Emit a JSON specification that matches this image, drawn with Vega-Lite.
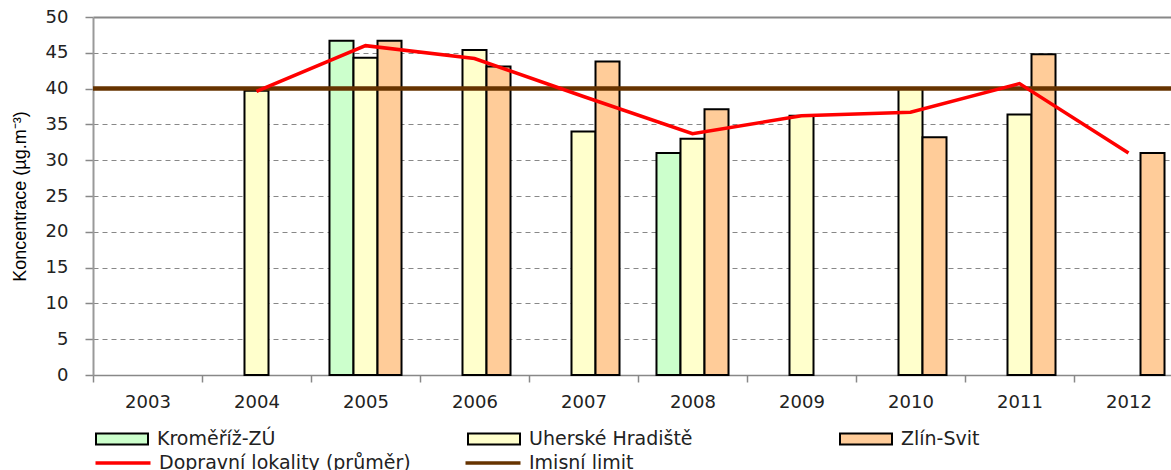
{
  "$schema": "https://vega.github.io/schema/vega-lite/v6.json",
  "width": 1078,
  "height": 358,
  "autosize": {"type": "none"},
  "padding": {"left": 93, "top": 17, "right": 0, "bottom": 95},
  "background": "white",
  "config": {"view": {"stroke": null}, "font": "DejaVu Sans"},
  "datasets": {
    "bars": [
      {"year": "2004", "series": "Uherské Hradiště", "value": 39.7},
      {"year": "2005", "series": "Kroměříž-ZÚ", "value": 46.7},
      {"year": "2005", "series": "Uherské Hradiště", "value": 44.3},
      {"year": "2005", "series": "Zlín-Svit", "value": 46.7},
      {"year": "2006", "series": "Uherské Hradiště", "value": 45.4},
      {"year": "2006", "series": "Zlín-Svit", "value": 43.1},
      {"year": "2007", "series": "Uherské Hradiště", "value": 34.0},
      {"year": "2007", "series": "Zlín-Svit", "value": 43.8},
      {"year": "2008", "series": "Kroměříž-ZÚ", "value": 31.0},
      {"year": "2008", "series": "Uherské Hradiště", "value": 33.0},
      {"year": "2008", "series": "Zlín-Svit", "value": 37.1},
      {"year": "2009", "series": "Uherské Hradiště", "value": 36.2},
      {"year": "2010", "series": "Uherské Hradiště", "value": 40.0},
      {"year": "2010", "series": "Zlín-Svit", "value": 33.2},
      {"year": "2011", "series": "Uherské Hradiště", "value": 36.4},
      {"year": "2011", "series": "Zlín-Svit", "value": 44.8},
      {"year": "2012", "series": "Zlín-Svit", "value": 31.0}
    ],
    "avg": [
      {"year": "2004", "series": "Dopravní lokality (průměr)", "value": 39.6},
      {"year": "2005", "series": "Dopravní lokality (průměr)", "value": 46.0},
      {"year": "2006", "series": "Dopravní lokality (průměr)", "value": 44.2},
      {"year": "2007", "series": "Dopravní lokality (průměr)", "value": 38.9},
      {"year": "2008", "series": "Dopravní lokality (průměr)", "value": 33.7},
      {"year": "2009", "series": "Dopravní lokality (průměr)", "value": 36.2},
      {"year": "2010", "series": "Dopravní lokality (průměr)", "value": 36.7},
      {"year": "2011", "series": "Dopravní lokality (průměr)", "value": 40.7},
      {"year": "2012", "series": "Dopravní lokality (průměr)", "value": 31.0}
    ],
    "limit": [
      {"series": "Imisní limit", "value": 40}
    ]
  },
  "layer": [
    {
      "data": {"name": "bars"},
      "mark": {"type": "bar", "stroke": "black", "strokeWidth": 2},
      "encoding": {
        "x": {
          "field": "year", "type": "nominal",
          "scale": {"domain": ["2003","2004","2005","2006","2007","2008","2009","2010","2011","2012"], "range": [0, 1090], "paddingInner": 0, "paddingOuter": 0},
          "axis": {"title": null, "tickBand": "extent", "labelAngle": 0, "domainColor": "#888888", "domainWidth": 1.5, "tickColor": "#888888", "tickWidth": 1.5, "tickSize": 7, "labelFont": "DejaVu Sans", "labelFontSize": 18, "labelColor": "#222222", "labelPadding": 11}
        },
        "xOffset": {
          "field": "series", "type": "nominal",
          "scale": {"domain": ["Kroměříž-ZÚ", "Uherské Hradiště", "Zlín-Svit"], "paddingInner": 0, "paddingOuter": 0.77}
        },
        "y": {
          "field": "value", "type": "quantitative",
          "scale": {"domain": [0, 50]},
          "axis": {
            "values": [0,5,10,15,20,25,30,35,40,45,50], "tickCount": 11,
            "title": "Koncentrace (µg.m⁻³)",
            "titleFont": "Liberation Sans",
            "titleFontSize": 18, "titleFontWeight": "normal", "titleColor": "#000000", "titlePadding": 16,
            "grid": true, "gridColor": "#888888",
            "gridDash": {"condition": {"test": "datum.value === 50", "value": []}, "value": [5, 4]},
            "gridWidth": {"condition": {"test": "datum.value === 50", "value": 2}, "value": 1},
            "domainColor": "#999999", "domainWidth": 2,
            "tickColor": "#888888", "tickWidth": 1.5, "tickSize": 8,
            "labelFont": "DejaVu Sans", "labelFontSize": 18, "labelColor": "#222222", "labelPadding": 17
          }
        },
        "fill": {
          "field": "series", "type": "nominal",
          "scale": {
            "domain": ["Kroměříž-ZÚ", "Uherské Hradiště", "Zlín-Svit"],
            "range": ["#ccffcc", "#ffffcc", "#ffcc99"]
          },
          "legend": {
            "orient": "none", "legendX": 18, "legendY": 411,
            "direction": "horizontal", "columns": 3, "title": null, "gridAlign": "all",
            "symbolType": "M-2.6,-0.55H2.6V0.55H-2.6Z", "symbolSize": 400,
            "symbolStrokeColor": "#000000", "symbolStrokeWidth": 2,
            "labelFont": "DejaVu Sans", "labelFontSize": 19, "labelColor": "#222222",
            "labelOffset": 24, "columnPadding": 143, "labelLimit": 500
          }
        }
      }
    },
    {
      "data": {"name": "limit"},
      "mark": {"type": "rule", "strokeWidth": 4.5},
      "encoding": {
        "y": {
          "field": "value", "type": "quantitative",
          "axis": {
            "values": [0,5,10,15,20,25,30,35,40,45,50], "tickCount": 11,
            "title": "Koncentrace (µg.m⁻³)",
            "titleFont": "Liberation Sans",
            "titleFontSize": 18, "titleFontWeight": "normal", "titleColor": "#000000", "titlePadding": 16,
            "grid": true, "gridColor": "#888888",
            "gridDash": {"condition": {"test": "datum.value === 50", "value": []}, "value": [5, 4]},
            "gridWidth": {"condition": {"test": "datum.value === 50", "value": 2}, "value": 1},
            "domainColor": "#999999", "domainWidth": 2,
            "tickColor": "#888888", "tickWidth": 1.5, "tickSize": 8,
            "labelFont": "DejaVu Sans", "labelFontSize": 18, "labelColor": "#222222", "labelPadding": 17
          }
        },
        "stroke": {
          "field": "series", "type": "nominal",
          "scale": {
            "domain": ["Dopravní lokality (průměr)", "Imisní limit"],
            "range": ["#ff0000", "#663300"]
          }
        }
      }
    },
    {
      "data": {"name": "avg"},
      "mark": {"type": "line", "strokeWidth": 3.5},
      "encoding": {
        "x": {
          "field": "year", "type": "nominal",
          "axis": {"title": null, "tickBand": "extent", "labelAngle": 0, "domainColor": "#888888", "domainWidth": 1.5, "tickColor": "#888888", "tickWidth": 1.5, "tickSize": 7, "labelFont": "DejaVu Sans", "labelFontSize": 18, "labelColor": "#222222", "labelPadding": 11}
        },
        "y": {
          "field": "value", "type": "quantitative",
          "axis": {
            "values": [0,5,10,15,20,25,30,35,40,45,50], "tickCount": 11,
            "title": "Koncentrace (µg.m⁻³)",
            "titleFont": "Liberation Sans",
            "titleFontSize": 18, "titleFontWeight": "normal", "titleColor": "#000000", "titlePadding": 16,
            "grid": true, "gridColor": "#888888",
            "gridDash": {"condition": {"test": "datum.value === 50", "value": []}, "value": [5, 4]},
            "gridWidth": {"condition": {"test": "datum.value === 50", "value": 2}, "value": 1},
            "domainColor": "#999999", "domainWidth": 2,
            "tickColor": "#888888", "tickWidth": 1.5, "tickSize": 8,
            "labelFont": "DejaVu Sans", "labelFontSize": 18, "labelColor": "#222222", "labelPadding": 17
          }
        },
        "stroke": {
          "field": "series", "type": "nominal",
          "legend": {
            "orient": "none", "legendX": 18, "legendY": 434,
            "direction": "horizontal", "columns": 2, "title": null, "gridAlign": "all",
            "symbolType": "M-2.75,0H2.75", "symbolSize": 400, "symbolStrokeWidth": 3.5,
            "labelFont": "DejaVu Sans", "labelFontSize": 19, "labelColor": "#222222",
            "labelOffset": 24, "columnPadding": 47, "labelLimit": 500
          }
        }
      }
    }
  ]
}
